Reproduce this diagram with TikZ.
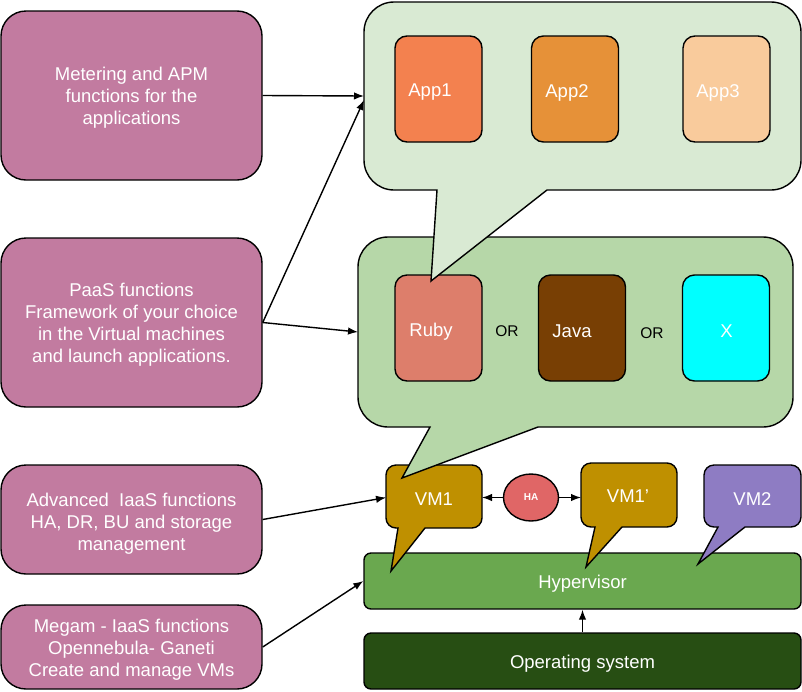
\documentclass[tikz,border=0pt]{standalone}
\usepackage{fontspec}
\setmainfont{Liberation Sans}
\usetikzlibrary{arrows.meta,shapes.geometric}
\definecolor{pinkbox}{HTML}{C27BA0}
\definecolor{topgreen}{HTML}{D9EAD3}
\definecolor{midgreen}{HTML}{B6D7A8}
\definecolor{hypgreen}{HTML}{6AA84F}
\definecolor{osgreen}{HTML}{274E13}
\definecolor{vmgold}{HTML}{BF9000}
\definecolor{vmpurple}{HTML}{8E7CC3}
\definecolor{hared}{HTML}{E06666}
\definecolor{appone}{HTML}{F3814F}
\definecolor{apptwo}{HTML}{E69138}
\definecolor{appthree}{HTML}{F9CB9C}
\definecolor{rubyc}{HTML}{DD7E6B}
\definecolor{javac}{HTML}{783F04}
\definecolor{xc}{HTML}{00FFFF}
% #1 style, #2 x1, #3 y1, #4 x2, #5 y2, #6 radius, #7 pointer base left, #8 tip "x,y", #9 pointer base right
\newcommand{\mycallout}[9]{%
 \draw[#1] (#7,#5) -- (#8) -- (#9,#5) -- ({#4-#6},#5)
  .. controls ({#4-0.448*#6},#5) and (#4,{#5-0.448*#6}) .. (#4,{#5-#6})
  -- (#4,{#3+#6})
  .. controls (#4,{#3+0.448*#6}) and ({#4-0.448*#6},#3) .. ({#4-#6},#3)
  -- ({#2+#6},#3)
  .. controls ({#2+0.448*#6},#3) and (#2,{#3+0.448*#6}) .. (#2,{#3+#6})
  -- (#2,{#5-#6})
  .. controls (#2,{#5-0.448*#6}) and ({#2+0.448*#6},#5) .. ({#2+#6},#5)
  -- cycle;}
\begin{document}
\begin{tikzpicture}[x=1pt,y=-1pt,
  bigfont/.style={font=\fontsize{18.5}{22}\selectfont},
  leftbox/.style={draw=black, line width=1.4pt, fill=pinkbox, rounded corners=25pt,
    minimum width=261pt, inner sep=0pt},
  tile/.style={draw=black, line width=1.4pt, rounded corners=12pt,
    minimum width=87pt, minimum height=106pt, inner sep=0pt},
  lbl/.style={text=white, inner sep=0pt, align=center, bigfont, yshift=-2.5pt},
  orlbl/.style={text=black, inner sep=0pt, font=\fontsize{15.5}{18}\selectfont, yshift=-1.5pt},
  bar/.style={draw=black, line width=1.4pt, rounded corners=7pt,
    minimum width=437pt, minimum height=56pt, inner sep=0pt},
  anchorbox/.style={inner sep=0pt, outer sep=0pt},
  calloutline/.style={draw=black, line width=1.4pt},
  arr/.style={draw=black, line width=1.4pt, -{Latex[length=10pt,width=7.5pt]}}]
\useasboundingbox (0,0) rectangle (802,691);

% left boxes
\node[leftbox, minimum height=169pt] (b1) at (131.5,95.5) {};
\node[leftbox, minimum height=169pt] (b2) at (131.5,322.5) {};
\node[leftbox, minimum height=109pt] (b3) at (131.5,519.5) {};
\node[leftbox, minimum height=84pt] (b4) at (131.5,647) {};
\node[lbl] (b1t) at (b1.center) {Metering and APM\\functions for the\\applications};
\node[lbl] (b2t) at (b2.center) {PaaS functions\\Framework of your choice\\in the Virtual machines\\and launch applications.};
\node[lbl] (b3t) at (131.5,521) {Advanced\ \ IaaS functions\\HA, DR, BU and storage\\management};
\node[lbl] (b4t) at (b4.center) {Megam - IaaS functions\\Opennebula- Ganeti\\Create and manage VMs};

% bottom bars
\node[bar, fill=osgreen] (os) at (582.5,661) {};
\node[bar, fill=hypgreen] (hyp) at (582.5,581) {};
\node[lbl] (ost) at (os.center) {Operating system};
\node[lbl] (hypt) at (hyp.center) {Hypervisor};

% VM callouts
\mycallout{calloutline, fill=vmgold}{386}{465}{482}{528}{10}{398}{391,571}{425}
\mycallout{calloutline, fill=vmgold}{581}{463}{677}{527}{10}{595}{586,567}{622}
\mycallout{calloutline, fill=vmpurple}{704}{465}{801}{527}{10}{718}{698,564}{745}
\node[anchorbox, minimum width=96pt, minimum height=63pt] (vm1) at (434,497.5) {};
\node[anchorbox, minimum width=96pt, minimum height=64pt] (vm1p) at (629,497.5) {};
\node[anchorbox, minimum width=97pt, minimum height=62pt] (vm2) at (752.5,496) {};
\node[lbl] (vm1t) at (434,497) {VM1};
\node[lbl] (vm1pt) at (628,494) {VM1’};
\node[lbl] (vm2t) at (752.5,497) {VM2};

% HA
\node[ellipse, draw=black, line width=1.4pt, fill=hared, minimum width=55pt, minimum height=47pt,
  inner sep=0pt, text=white, font=\fontsize{10}{12}\selectfont\bfseries] (ha) at (531,497.5) {HA};

% middle callout
\mycallout{calloutline, fill=midgreen}{358}{237}{793}{427}{30}{430}{402,478}{538}
\node[anchorbox, minimum width=435pt, minimum height=190pt] (mid) at (575.5,332) {};
\node[tile, fill=rubyc] (ruby) at (438.5,328) {};
\node[tile, fill=javac] (java) at (582,328) {};
\node[tile, fill=xc] (xbox) at (726,328) {};
\node[lbl] (rubyt) at (431,329) {Ruby};
\node[lbl] (javat) at (572,329) {Java};
\node[lbl] (xt) at (726.5,329) {X};
\node[orlbl] (or1) at (507,330) {OR};
\node[orlbl] (or2) at (652,332) {OR};

% top callout
\mycallout{calloutline, fill=topgreen}{364}{2}{801}{190}{30}{437}{431,281}{547}
\node[anchorbox, minimum width=437pt, minimum height=188pt] (top) at (582.5,96) {};
\node[tile, fill=appone] (app1) at (438.5,89) {};
\node[tile, fill=apptwo] (app2) at (575,89) {};
\node[tile, fill=appthree] (app3) at (726.5,89) {};
\node[lbl] (app1t) at (430,90) {App1};
\node[lbl] (app2t) at (567,90) {App2};
\node[lbl] (app3t) at (718,90) {App3};

% connectors
\draw[arr] (b1.east) -- (top.west);
\draw[arr] (b2.east) -- ([yshift=-4pt]top.west);
\draw[arr] (b2.east) -- (mid.west);
\draw[arr] (b3.east) -- (vm1.west);
\draw[arr] (b4.east) -- (hyp.west);
\draw[arr] (os.north) -- (hyp.south);
\draw[arr] (ha) -- (vm1);
\draw[arr] (ha) -- (vm1p);
\end{tikzpicture}
\end{document}
